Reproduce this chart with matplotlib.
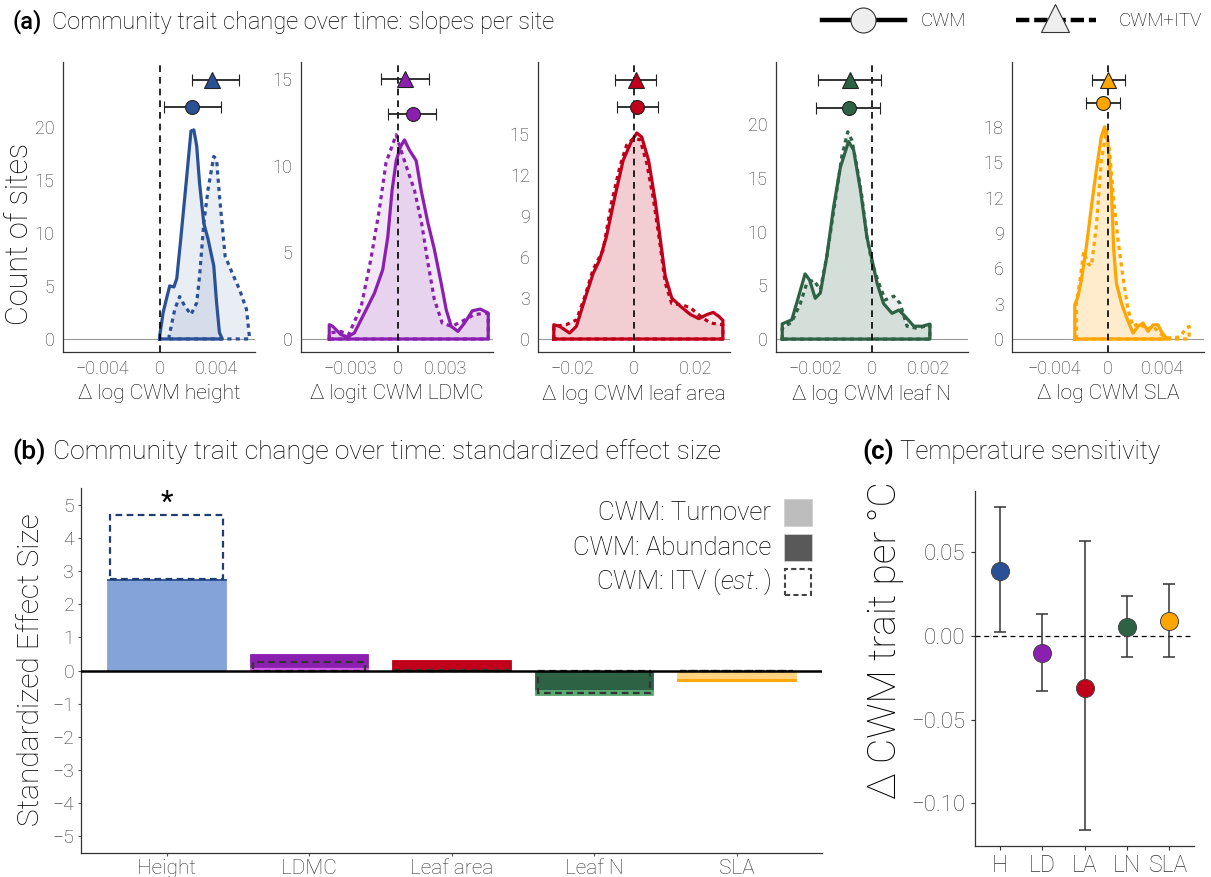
import matplotlib
matplotlib.use('Agg')
import matplotlib.pyplot as plt
from matplotlib.lines import Line2D
from matplotlib.patches import Rectangle
import numpy as np

plt.rcParams['font.family'] = ['Roboto', 'DejaVu Sans']
plt.rcParams['font.weight'] = 'light'
plt.rcParams['axes.labelweight'] = 'light'
plt.rcParams['mathtext.fontset'] = 'custom'
plt.rcParams['mathtext.rm'] = 'Roboto:light'
plt.rcParams['mathtext.it'] = 'Roboto:italic:light'

# ---------------- data ----------------
traits = ['Height', 'LDMC', 'Leaf area', 'Leaf N', 'SLA']
trait_short = ['H', 'LD', 'LA', 'LN', 'SLA']
trait_colors = ['#2a5196', '#8b1fb0', '#c0001a', '#2e6245', '#ffa500']
light_colors = ['#84a4d9', '#d65ee9', '#e06070', '#5aaa72', '#ffd27f']
xlabels_a = ['Δ log CWM height', 'Δ logit CWM LDMC', 'Δ log CWM leaf area',
             'Δ log CWM leaf N', 'Δ log CWM SLA']

# (a) density of site slopes (x = slope, y = count of sites)
height_x_cwm = [0.0, 0.00024, 0.0007, 0.001, 0.0012, 0.0015, 0.0019, 0.0022, 0.0024, 0.0026,
                0.0028, 0.0031, 0.0034, 0.0038, 0.004, 0.0042, 0.0044]
height_y_cwm = [0.3, 2.5, 5.0, 4.9, 5.7, 9.7, 15.3, 19.6, 19.7, 18.2,
                14.7, 10.9, 9.4, 6.9, 3.4, 0.6, 0.0]
height_x_itv = [0.00066, 0.00106, 0.0014, 0.00176, 0.0022, 0.0026, 0.0028, 0.0031, 0.0034,
                0.0038, 0.004, 0.0042, 0.0046, 0.0052, 0.0056, 0.0061, 0.0063]
height_y_itv = [0.25, 2.8, 4.0, 3.1, 2.3, 3.4, 5.9, 10.9, 14.1,
                17.2, 16.9, 13.5, 7.8, 5.9, 4.7, 2.8, 0.3]

ldmc_x_cwm = [-0.00432, -0.0041, -0.00358, -0.00316, -0.00274, -0.0021, -0.00147, -0.00095,
              -0.00063, -0.00036, -0.0001, 0.00017, 0.00042, 0.00074, 0.00116, 0.00147, 0.0019,
              0.0023, 0.00274, 0.00305, 0.00337, 0.00379, 0.0042, 0.0047, 0.0052, 0.0057]
ldmc_y_cwm = [0.83, 0.73, 0.25, 0.12, 0.35, 1.5, 2.65, 4.0,
              5.9, 8.6, 10.3, 11.1, 11.5, 10.9, 10.3, 8.6, 6.7,
              5.2, 3.2, 1.7, 0.73, 0.44, 0.92, 1.63, 1.73, 1.5]
ldmc_x_itv = [-0.00432, -0.0036, -0.0031, -0.0023, -0.0017, -0.00116, -0.00074, -0.0003,
              -0.0001, 0.0002, 0.0006, 0.00105, 0.0015, 0.0019, 0.0023, 0.0028, 0.0034,
              0.004, 0.0048, 0.0055, 0.0057]
ldmc_y_itv = [0.35, 0.44, 0.25, 1.9, 4.6, 7.5, 10.2, 11.3,
              11.8, 10.9, 9.8, 8.6, 6.7, 4.4, 2.3, 0.92, 0.73,
              1.0, 1.4, 1.5, 1.45]

area_x_cwm = [-0.0259, -0.024, -0.0208, -0.0186, -0.0159, -0.0132, -0.0111, -0.0089, -0.0062,
              -0.0035, -0.0008, 0.0009, 0.0025, 0.0047, 0.0068, 0.0085, 0.0101, 0.0122, 0.015,
              0.0182, 0.0209, 0.0236, 0.0256, 0.0274, 0.0287]
area_y_cwm = [1.05, 0.93, 0.44, 0.93, 2.9, 4.8, 5.8, 7.5, 10.4,
              13.1, 14.5, 15.1, 14.8, 13.1, 10.2, 7.3, 4.6, 3.0, 2.4,
              1.8, 1.5, 1.8, 1.95, 1.66, 1.37]
area_x_itv = [-0.0259, -0.0219, -0.0186, -0.0159, -0.0132, -0.01, -0.0073, -0.0046, -0.0024,
              -0.0002, 0.002, 0.0041, 0.0063, 0.0085, 0.0101, 0.0122, 0.0155, 0.0182, 0.0215,
              0.0247, 0.0287]
area_y_itv = [0.93, 1.05, 1.4, 3.1, 5.1, 6.5, 9.95, 12.6, 14.2,
              14.7, 14.6, 12.9, 10.2, 6.8, 4.1, 2.6, 2.5, 2.3, 1.66,
              1.17, 1.05]

leafn_x_cwm = [-0.00318, -0.00284, -0.0026, -0.00237, -0.00221, -0.00201, -0.00183, -0.0016,
               -0.00136, -0.00112, -0.00083, -0.00065, -0.00041, -0.00018, 0.0, 0.00018,
               0.00041, 0.00071, 0.00095, 0.00118, 0.00148, 0.00178, 0.00205]
leafn_y_cwm = [1.42, 1.8, 3.96, 6.07, 5.5, 3.8, 4.3, 7.7,
               12.3, 16.0, 18.4, 17.6, 13.9, 9.5, 7.4, 5.2,
               3.3, 2.4, 2.7, 2.1, 1.2, 1.2, 1.4]
leafn_x_itv = [-0.00318, -0.00284, -0.00254, -0.00231, -0.00207, -0.00183, -0.0016, -0.0013,
               -0.00107, -0.00086, -0.00071, -0.00053, -0.00036, -0.00018, 0.0, 0.00024,
               0.00047, 0.00077, 0.001, 0.00124, 0.0016, 0.00205]
leafn_y_itv = [1.0, 1.6, 3.3, 5.2, 5.5, 4.6, 7.7, 12.9,
               17.0, 19.3, 18.5, 16.0, 13.3, 9.5, 7.1, 5.2,
               3.65, 4.0, 3.3, 1.2, 1.0, 1.33]

sla_x_cwm = [-0.00246, -0.00222, -0.00197, -0.0016, -0.00123, -0.00086, -0.00049, -0.00025,
             0.0, 0.00025, 0.00042, 0.00062, 0.00099, 0.00135, 0.00185, 0.00222, 0.00259,
             0.00296, 0.00333, 0.0037, 0.00394, 0.00431]
sla_y_cwm = [2.9, 3.6, 5.0, 7.85, 11.2, 14.35, 17.2, 18.0,
             16.6, 12.7, 7.6, 4.75, 3.05, 1.9, 0.5, 1.07, 1.36,
             0.65, 1.2, 1.2, 0.65, 0.08]
sla_x_itv = [-0.00234, -0.0021, -0.0018, -0.00148, -0.00123, -0.00086, -0.00049, -0.00012,
             0.00012, 0.00037, 0.00074, 0.0011, 0.00148, 0.00185, 0.00234, 0.00283, 0.00333,
             0.00382, 0.00431, 0.0053, 0.0058, 0.006]
sla_y_itv = [3.05, 4.75, 7.4, 6.4, 6.2, 9.6, 15.2, 17.7,
             16.0, 12.4, 8.4, 5.3, 2.5, 1.07, 1.36, 0.8, 1.07,
             0.5, 0.08, 0.17, 0.93, 1.07]

# (a) mean slope with interval, and the height at which it is drawn
cwm_mean = [0.00225, 0.00095, 0.0011, -0.0008, -0.00037]
cwm_lo = [0.00028, -0.00059, -0.0056, -0.00198, -0.0016]
cwm_hi = [0.0043, 0.00242, 0.0076, 0.0003, 0.00091]
itv_mean = [0.0037, 0.00046, 0.0005, -0.00077, 0.0]
itv_lo = [0.00225, -0.00105, -0.006, -0.00192, -0.00118]
itv_hi = [0.00554, 0.00196, 0.007, 0.00033, 0.00128]
cwm_level = [21.9, 13.0, 17.0, 21.5, 20.0]
itv_level = [24.4, 15.0, 19.0, 24.1, 22.0]

a_xticks = [[-0.004, 0, 0.004], [-0.003, 0, 0.003], [-0.02, 0, 0.02],
            [-0.002, 0, 0.002], [-0.004, 0, 0.004]]
a_xticklabels = [['−0.004', '0', '0.004'], ['−0.003', '0', '0.003'], ['−0.02', '0', '0.02'],
                 ['−0.002', '0', '0.002'], ['−0.004', '0', '0.004']]
a_yticks = [[0, 5, 10, 15, 20], [0, 5, 10, 15], [0, 3, 6, 9, 12, 15],
            [0, 5, 10, 15, 20], [0, 3, 6, 9, 12, 15, 18]]

# (b) standardized effect sizes
ses_turnover = [2.72, 0.12, 0.0, -0.15, -0.25]
ses_abundance = [0.04, 0.38, 0.33, -0.60, -0.07]
ses_itv_total = [4.69, 0.25, 0.02, -0.68, -0.03]
turnover_inner = [True, True, True, False, True]
signif = ['*', '', '', '', '']

# (c) temperature sensitivity
temp_sens = [0.0387, -0.0100, -0.0310, 0.0056, 0.0092]
temp_lo = [0.0022, -0.0329, -0.1162, -0.0128, -0.0124]
temp_hi = [0.0774, 0.0130, 0.0569, 0.0240, 0.0310]

# ---------------- layout helpers ----------------
W, H = 1211, 877
fig = plt.figure(figsize=(W / 100, H / 100), dpi=100)


def rect(l, t, r, b):
    return [l / W, 1 - b / H, (r - l) / W, (b - t) / H]


def fx(x):
    return x / W


def fy(y):
    return 1 - y / H


def style_axes(ax):
    for s in ['top', 'right']:
        ax.spines[s].set_visible(False)
    for s in ['left', 'bottom']:
        ax.spines[s].set_color('#333333')
        ax.spines[s].set_linewidth(0.9)


tick_grey = '#333333'
dotted = (0, (1.3, 1.3))

# ---------------- panel (a) ----------------
curves_cwm = [(height_x_cwm, height_y_cwm), (ldmc_x_cwm, ldmc_y_cwm), (area_x_cwm, area_y_cwm),
              (leafn_x_cwm, leafn_y_cwm), (sla_x_cwm, sla_y_cwm)]
curves_itv = [(height_x_itv, height_y_itv), (ldmc_x_itv, ldmc_y_itv), (area_x_itv, area_y_itv),
              (leafn_x_itv, leafn_y_itv), (sla_x_itv, sla_y_itv)]
a_left = [63, 301, 538, 776, 1012]
a_xlim = [(-0.0068, 0.0067), (-0.0061, 0.006), (-0.031, 0.031), (-0.0034, 0.0034), (-0.0071, 0.0071)]
a_ylim = [(-1.23, 26.1), (-0.75, 16.0), (-0.95, 20.3), (-1.2, 25.8), (-1.1, 23.5)]

for i in range(5):
    ax = fig.add_axes(rect(a_left[i], 62, a_left[i] + 192, 352))
    style_axes(ax)
    col = trait_colors[i]
    ax.axhline(0, color='#9a9a9a', lw=0.8, zorder=0)
    for (xs, ys), ls in [(curves_itv[i], dotted), (curves_cwm[i], '-')]:
        px = [xs[0]] + list(xs) + [xs[-1], xs[0]]
        py = [0] + list(ys) + [0, 0]
        ax.fill(px, py, color=col, alpha=0.1, lw=0, zorder=1)
        ax.plot(px, py, color=col, lw=2.3, ls=ls, zorder=2,
                solid_joinstyle='round', dash_capstyle='butt')
    ax.axvline(0, color='black', lw=1.2, ls=(0, (4, 3)), zorder=3)
    ax.errorbar([cwm_mean[i]], [cwm_level[i]],
                xerr=[[cwm_mean[i] - cwm_lo[i]], [cwm_hi[i] - cwm_mean[i]]],
                fmt='o', color='#222222', ecolor='#222222', elinewidth=1.3, capsize=4,
                capthick=1.3, markersize=10, markerfacecolor=col, markeredgecolor='#222222',
                markeredgewidth=0.8, zorder=4)
    ax.errorbar([itv_mean[i]], [itv_level[i]],
                xerr=[[itv_mean[i] - itv_lo[i]], [itv_hi[i] - itv_mean[i]]],
                fmt='^', color='#222222', ecolor='#222222', elinewidth=1.3, capsize=4,
                capthick=1.3, markersize=11, markerfacecolor=col, markeredgecolor='#222222',
                markeredgewidth=0.8, zorder=4)
    ax.set_xlim(a_xlim[i])
    ax.set_ylim(a_ylim[i])
    ax.set_xticks(a_xticks[i])
    ax.set_xticklabels(a_xticklabels[i])
    ax.set_yticks(a_yticks[i])
    ax.tick_params(length=0, labelsize=13, labelcolor=tick_grey, pad=6)
    ax.set_xlabel(xlabels_a[i], fontsize=15, labelpad=4)

fig.text(fx(20), fy(234), 'Count of sites', rotation=90, fontsize=22, ha='center', va='center')

fig.text(fx(12), fy(22), '(a)', fontsize=17, weight='medium', va='center')
fig.text(fx(52), fy(22), 'Community trait change over time: slopes per site', fontsize=17, va='center')

# top legend
fig.add_artist(Line2D([fx(822), fx(905)], [fy(20), fy(20)], color='black', lw=3.2))
fig.add_artist(Line2D([fx(863)], [fy(20)], marker='o', markersize=18, markerfacecolor='#eeeeee',
                      markeredgecolor='#333333', markeredgewidth=0.8, lw=0))
fig.text(fx(921), fy(21), 'CWM', fontsize=13.5, va='center')
fig.add_artist(Line2D([fx(1016), fx(1096)], [fy(20), fy(20)], color='black', lw=3.2, ls=(0, (3, 1.1))))
fig.add_artist(Line2D([fx(1055)], [fy(18)], marker='^', markersize=20, markerfacecolor='#eeeeee',
                      markeredgecolor='#333333', markeredgewidth=0.8, lw=0))
fig.text(fx(1119), fy(21), 'CWM+ITV', fontsize=13.5, va='center')

# ---------------- panel (b) ----------------
axb = fig.add_axes(rect(81, 488, 822, 853))
style_axes(axb)
pos = np.arange(1, 6)
bw = 0.83
for i in range(5):
    t, a = ses_turnover[i], ses_abundance[i]
    if turnover_inner[i]:
        segs = [(0, t, light_colors[i]), (t, a, trait_colors[i])]
    else:
        segs = [(0, a, trait_colors[i]), (a, t, light_colors[i])]
    for bottom, height, c in segs:
        if height != 0:
            axb.bar(pos[i], height, bottom=bottom, width=bw, color=c,
                    edgecolor=c, linewidth=0.6, zorder=2)
    cwm_total = t + a
    itv = ses_itv_total[i]
    start = cwm_total if abs(itv) > abs(cwm_total) else 0
    dash_col = '#1f3d6e' if i == 0 else '#333333'
    axb.add_patch(Rectangle((pos[i] - bw / 2 + 0.02, start), bw - 0.04, itv - start, fill=False,
                            edgecolor=dash_col, lw=1.6, ls=(0, (3, 2)), zorder=3))
    if signif[i]:
        axb.text(pos[i], itv - 0.05, signif[i], ha='center', va='bottom', fontsize=21,
                 color='black', weight='normal')

axb.axhline(0, color='black', lw=1.8, zorder=4)
axb.set_xlim(0.4, 5.6)
axb.set_ylim(-5.5, 5.5)
axb.set_xticks(pos)
axb.set_xticklabels(traits)
axb.set_yticks(range(-5, 6))
axb.set_yticklabels([str(v).replace('-', '−') for v in range(-5, 6)])
axb.tick_params(axis='y', length=2, labelsize=14, labelcolor=tick_grey, pad=3, color='#555555')
axb.tick_params(axis='x', length=2, labelsize=15, labelcolor=tick_grey, pad=2, color='#555555')

fig.text(fx(31), fy(670), 'Standardized Effect Size', rotation=90, fontsize=21.5, ha='center', va='center')
fig.text(fx(12), fy(452), '(b)', fontsize=19, weight='medium', va='center')
fig.text(fx(53), fy(452), 'Community trait change over time: standardized effect size',
         fontsize=19, va='center')

# legend of (b)
leg_rows = [(513, 'CWM: Turnover'), (548, 'CWM: Abundance'), (582, r'CWM: ITV ($\it{est.}$)')]
leg_fill = ['#bdbdbd', '#595959', None]
for (yc, label), fc in zip(leg_rows, leg_fill):
    fig.text(fx(771), fy(yc), label, fontsize=18.5, ha='right', va='center')
    if fc is None:
        p = Rectangle((fx(785), fy(yc + 13)), 26 / W, 26 / H, transform=fig.transFigure,
                      fill=False, edgecolor='#444444', lw=1.5, ls=(0, (2.5, 1.5)))
    else:
        p = Rectangle((fx(784), fy(yc + 13)), 28 / W, 27 / H, transform=fig.transFigure,
                      facecolor=fc, edgecolor='#d0d0d0', lw=0.6)
    fig.add_artist(p)

# ---------------- panel (c) ----------------
axc = fig.add_axes(rect(975, 491, 1194, 846))
style_axes(axc)
axc.axhline(0, color='black', lw=0.9, ls=(0, (4, 3)), zorder=1)
for i in range(5):
    axc.errorbar([pos[i]], [temp_sens[i]],
                 yerr=[[temp_sens[i] - temp_lo[i]], [temp_hi[i] - temp_sens[i]]],
                 fmt='none', ecolor='#333333', elinewidth=1.1, capsize=4, capthick=1.1, zorder=2)
    axc.plot([pos[i]], [temp_sens[i]], 'o', markersize=13, markerfacecolor=trait_colors[i],
             markeredgecolor='#444444', markeredgewidth=0.7, zorder=3)
axc.set_xlim(0.4, 5.6)
axc.set_ylim(-0.1257, 0.0868)
axc.set_xticks(pos)
axc.set_xticklabels(trait_short)
axc.set_yticks([-0.10, -0.05, 0.0, 0.05])
axc.set_yticklabels(['−0.10', '−0.05', '0.00', '0.05'])
axc.tick_params(axis='y', length=3, labelsize=16, labelcolor=tick_grey, pad=4, color='#333333')
axc.tick_params(axis='x', length=3, labelsize=16.5, labelcolor=tick_grey, pad=3, color='#333333')

fig.text(fx(885), fy(640), 'Δ CWM trait per °C', rotation=90, fontsize=28, ha='center', va='center')
fig.text(fx(862), fy(452), '(c)', fontsize=18.5, weight='bold', va='center')
fig.text(fx(900), fy(452), 'Temperature sensitivity', fontsize=18.5, va='center')

fig.savefig('out.png', dpi=100)
